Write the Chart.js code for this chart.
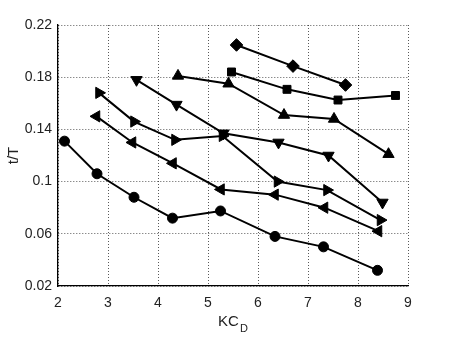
<!DOCTYPE html>
<html>
<head>
<meta charset="utf-8">
<script src="https://cdn.jsdelivr.net/npm/chart.js@4"></script>
<style>
  html, body { margin: 0; padding: 0; background: #fff; }
  #wrap { width: 450px; height: 338px; }
</style>
</head>
<body>
<div id="wrap"><canvas id="myChart" width="450" height="338"></canvas></div>
<script>
// values (x = KC_D, y = t/T)
const xTicks = [2, 3, 4, 5, 6, 7, 8, 9];
const yTicks = [0.02, 0.06, 0.1, 0.14, 0.18, 0.22];

const circleKC = [2.13, 2.78, 3.52, 4.29, 5.25, 6.34, 7.31, 8.39];
const circleT  = [0.131, 0.106, 0.088, 0.072, 0.0775, 0.058, 0.050, 0.032];

const leftKC = [2.77, 3.49, 4.30, 5.26, 6.34, 7.33, 8.41];
const leftT  = [0.150, 0.130, 0.114, 0.094, 0.090, 0.080, 0.062];

const rightKC = [2.82, 3.52, 4.34, 5.29, 6.39, 7.38, 8.45];
const rightT  = [0.168, 0.146, 0.132, 0.135, 0.100, 0.0935, 0.0705];

const downKC = [3.57, 4.37, 5.31, 6.41, 7.41, 8.49];
const downT  = [0.178, 0.159, 0.137, 0.130, 0.120, 0.084];

const upKC = [4.40, 5.41, 6.52, 7.52, 8.61];
const upT  = [0.181, 0.175, 0.151, 0.148, 0.121];

const squareKC = [5.47, 6.58, 7.60, 8.75];
const squareT  = [0.184, 0.1707, 0.1625, 0.166];

const diamondKC = [5.57, 6.70, 7.75];
const diamondT  = [0.2047, 0.1885, 0.174];

let ctx = document.getElementById('myChart');

function pts(xs, ys) {
    return xs.map(function (x, i) { return { x: x, y: ys[i] }; });
}

function serie(xs, ys, style, radius, rotation) {
    return {
        data: pts(xs, ys),
        borderColor: '#000',
        backgroundColor: '#000',
        borderWidth: 2,
        pointStyle: style,
        pointRadius: radius,
        pointRotation: rotation,
        pointBorderWidth: 1,
        pointBackgroundColor: '#000',
        pointBorderColor: '#000',
        showLine: true,
        tension: 0
    };
}

// axis titles, the x one needs a subscript
const axisTitles = {
    id: 'axisTitles',
    afterDraw(chart) {
        const c = chart.ctx;
        const a = chart.chartArea;
        c.save();
        c.fillStyle = '#222';
        c.textBaseline = 'middle';
        c.font = '15px "Liberation Sans", Arial, sans-serif';
        const wKC = c.measureText('KC').width;
        c.font = '11px "Liberation Sans", Arial, sans-serif';
        const wD = c.measureText('D').width;
        let x0 = (a.left + a.right) / 2 - (wKC + wD + 1) / 2;
        c.font = '15px "Liberation Sans", Arial, sans-serif';
        c.textAlign = 'left';
        c.fillText('KC', x0, 322);
        c.font = '11px "Liberation Sans", Arial, sans-serif';
        c.fillText('D', x0 + wKC + 1, 329);

        c.font = '15px "Liberation Sans", Arial, sans-serif';
        c.translate(14, (a.top + a.bottom) / 2);
        c.rotate(-Math.PI / 2);
        c.textAlign = 'center';
        c.fillText('t/T', 0, 0);
        c.restore();
    }
};

// grid lines dotted, axis line itself solid
const gridDash = c => (c.type === 'tick' ? [1, 2] : []);

let myChart = new Chart(ctx, {
    type: 'scatter',
    data: {
        datasets: [
            serie(circleKC, circleT, 'circle', 5, 0),
            serie(leftKC, leftT, 'triangle', 6.5, 270),
            serie(rightKC, rightT, 'triangle', 6.5, 90),
            serie(downKC, downT, 'triangle', 6.5, 180),
            serie(upKC, upT, 'triangle', 6.5, 0),
            serie(squareKC, squareT, 'rect', 5.6, 0),
            serie(diamondKC, diamondT, 'rectRot', 6.3, 0)
        ]
    },
    plugins: [axisTitles],
    options: {
        responsive: false,
        animation: false,
        layout: { padding: { left: 0, right: 42, top: 25, bottom: 0 } },
        plugins: {
            legend: { display: false },
            tooltip: { enabled: false }
        },
        scales: {
            x: {
                type: 'linear',
                min: 2,
                max: 9,
                afterBuildTicks: function (s) { s.ticks = xTicks.map(v => ({ value: v })); },
                afterFit: function (s) { s.height = 52; },
                grid: { color: 'rgba(0,0,0,0.65)', lineWidth: 1, drawTicks: false },
                border: { display: true, color: '#000', width: 1.3, dash: gridDash },
                ticks: {
                    padding: 9,
                    color: '#222',
                    font: { family: '"Liberation Sans", Arial, sans-serif', size: 14 },
                    callback: v => String(v)
                }
            },
            y: {
                type: 'linear',
                min: 0.02,
                max: 0.22,
                afterBuildTicks: function (s) { s.ticks = yTicks.map(v => ({ value: v })); },
                afterFit: function (s) { s.width = 58; },
                grid: { color: 'rgba(0,0,0,0.65)', lineWidth: 1, drawTicks: false },
                border: { display: true, color: '#000', width: 1.3, dash: gridDash },
                ticks: {
                    padding: 6,
                    color: '#222',
                    font: { family: '"Liberation Sans", Arial, sans-serif', size: 14 },
                    callback: v => String(Number(v.toFixed(2)))
                }
            }
        }
    }
});
</script>
</body>
</html>
